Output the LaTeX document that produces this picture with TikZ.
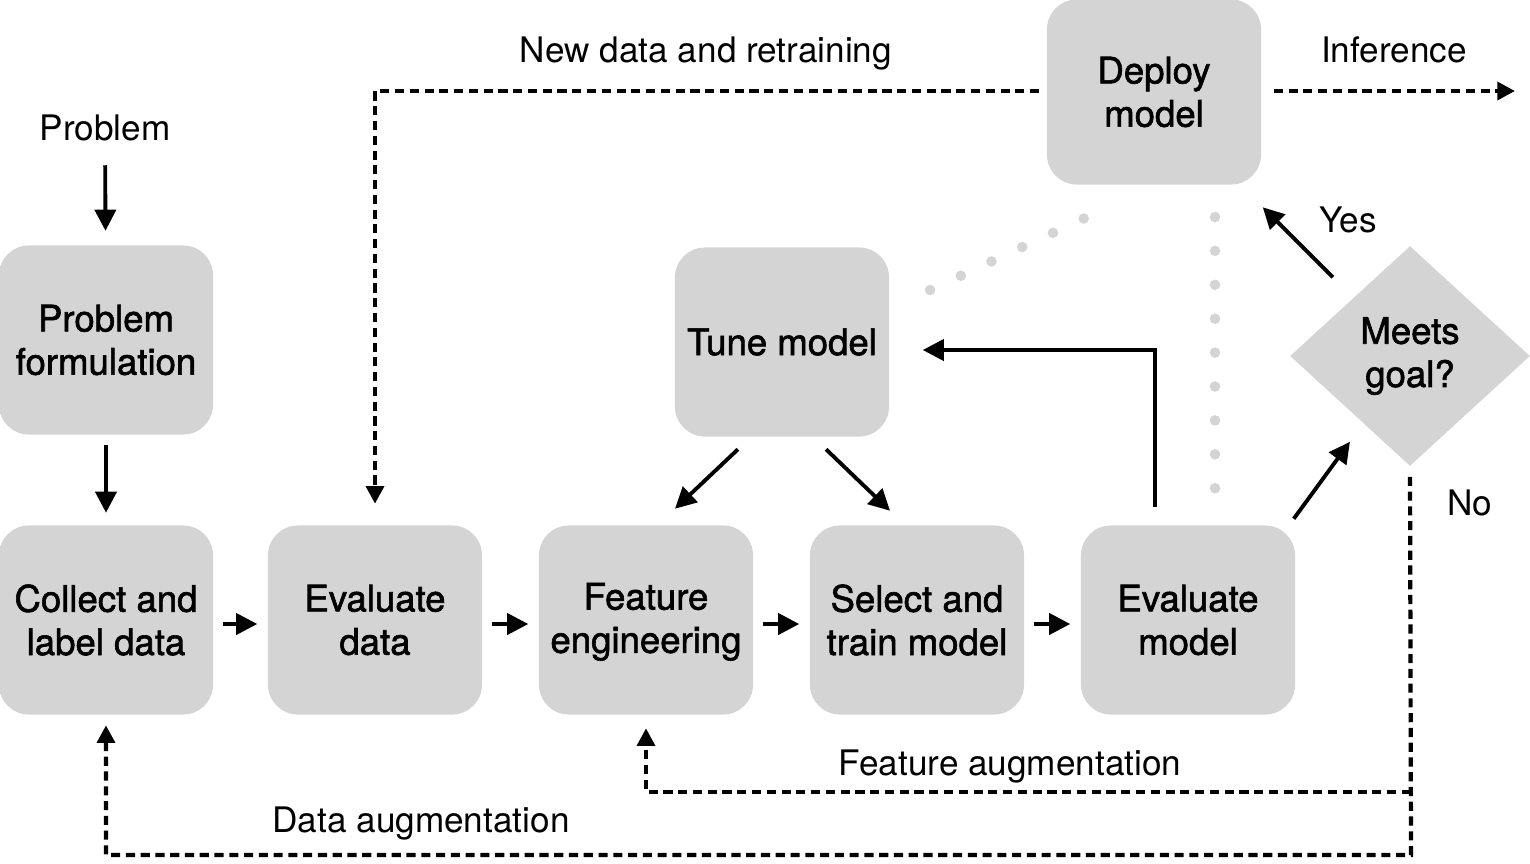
\documentclass[tikz,border=0pt]{standalone}
\usepackage{fontspec}
\setmainfont{TeX Gyre Heros}
\newfontfamily\medfont[FakeBold=1.6]{TeX Gyre Heros}
\usetikzlibrary{arrows.meta,shapes.geometric}
\definecolor{boxgray}{HTML}{D4D4D4}
\definecolor{dotgray}{HTML}{D4D4D4}
\begin{document}
\begin{tikzpicture}[x=0.01cm,y=-0.01cm,
  boxfont/.style={font=\fontsize{10.4}{12.3}\selectfont\medfont},
  box/.style={rectangle, rounded corners=0.3cm, fill=boxgray, minimum width=2.14cm, minimum height=1.89cm, align=center, boxfont, inner sep=0pt},
  lbl/.style={font=\fontsize{10}{12}\selectfont, inner sep=0pt, anchor=base},
  arr/.style={line width=1.1pt, -{Triangle[length=6pt,width=6pt]}},
  darr/.style={line width=1.2pt, dash pattern=on 2.6pt off 1.6pt, -{Triangle[length=5pt,width=5pt]}},
  dots/.style={line width=3pt, dotgray, line cap=round, dash pattern=on 0pt off 9.64pt}]
\useasboundingbox (0,0) rectangle (1530,863);

% boxes
\node[box] (pf) at (106,340) {Problem\\formulation};
\node[box] (cl) at (106,620) {Collect and\\label data};
\node[box] (ed) at (375,620) {Evaluate\\data};
\node[box] (fe) at (646,620) {\strut Feature\\engineering};
\node[box] (st) at (917,620) {Select and\\train model};
\node[box] (em) at (1188,620) {Evaluate\\model};
\node[box] (tm) at (782,342) {Tune model};
\node[box, minimum height=1.85cm] (dm) at (1154,92) {Deploy\\model};
\node[diamond, fill=boxgray, minimum width=2.4cm, minimum height=2.2cm, inner sep=0pt, align=center,
      boxfont] (mg) at (1410,356) {Meets\\goal?\rule[-0.06cm]{0pt}{0pt}};

% labels
\node[lbl] (prob) at (105,140) {Problem};
\node[lbl] (lnew) at (706,62) {New data and retraining};
\node[lbl] (linf) at (1394,62) {Inference};
\node[lbl] (lyes) at (1348,232) {Yes};
\node[lbl] (lno) at (1470,515) {No};
\node[lbl] (lfa) at (1010,775) {Feature augmentation};
\node[lbl] (lda) at (421,832) {Data augmentation};

% coordinates
\coordinate (infEnd) at (1515,91);
\coordinate (botR) at (1411,855);
\coordinate (midR) at (1411,792);
\coordinate (d1a) at (930,290);
\coordinate (d1b) at (1087,217);
\coordinate (d2a) at (1215,217);
\coordinate (d2b) at (1215,489);

% dotted gray lines
\draw[dots] (d1a) -- (d1b);
\draw[dots] (d2a) -- (d2b);

% solid arrows
\draw[arr, shorten <=0.24cm, shorten >=0.14cm] (prob) -- (pf);
\draw[arr, shorten <=0.10cm, shorten >=0.12cm] (pf) -- (cl);
\draw[arr, shorten <=0.09cm, shorten >=0.10cm] ([yshift=-0.04cm]cl.east) -- ([yshift=-0.04cm]ed.west);
\draw[arr, shorten <=0.09cm, shorten >=0.10cm] ([yshift=-0.04cm]ed.east) -- ([yshift=-0.04cm]fe.west);
\draw[arr, shorten <=0.09cm, shorten >=0.10cm] ([yshift=-0.04cm]fe.east) -- ([yshift=-0.04cm]st.west);
\draw[arr, shorten <=0.09cm, shorten >=0.10cm] ([yshift=-0.04cm]st.east) -- ([yshift=-0.04cm]em.west);
\draw[arr] ([xshift=-0.44cm,yshift=-0.12cm]tm.south) -- ([xshift=0.29cm,yshift=0.16cm]fe.north);
\draw[arr] ([xshift=0.44cm,yshift=-0.12cm]tm.south) -- ([xshift=-0.27cm,yshift=0.14cm]st.north);
\draw[arr] ([xshift=-0.33cm,yshift=0.18cm]em.north) |- ([xshift=0.33cm,yshift=-0.08cm]tm.east);
\draw[arr] ([xshift=-0.02cm,yshift=0.06cm]em.north east) -- ([xshift=-0.6cm,yshift=0.25cm]mg.south);
\draw[arr] ([xshift=-0.77cm,yshift=-0.32cm]mg.north) -- ([xshift=0.01cm,yshift=-0.22cm]dm.south east);

% dashed arrows
\draw[darr, shorten <=0.07cm, shorten >=0.21cm] ([yshift=0.01cm]dm.west) -| (ed.north);
\draw[darr, shorten <=0.12cm] ([yshift=0.01cm]dm.east) -- (infEnd);
\draw[darr, shorten <=0.10cm, shorten >=0.10cm] (mg.south) -- (botR) -| (cl.south);
\draw[darr, shorten >=0.13cm] (midR) -| (fe.south);
\end{tikzpicture}
\end{document}
